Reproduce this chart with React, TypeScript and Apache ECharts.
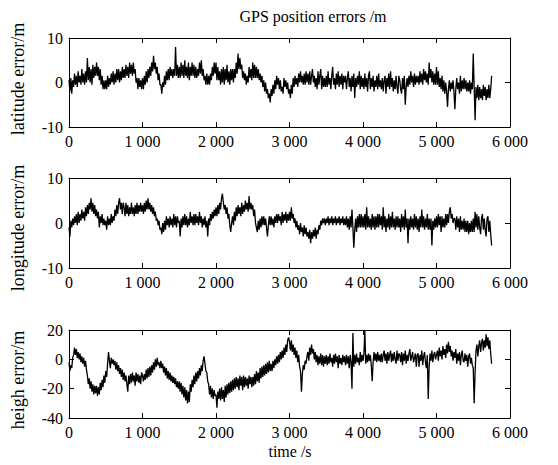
import React, { useEffect, useRef } from "react";
import * as echarts from "echarts";

const STEP_S = 12.5;
const xTicks = [0, 1000, 2000, 3000, 4000, 5000, 6000];
const panelNames = ["latitude error/m", "longitude error/m", "heigh error/m"];
const yRanges = [
  [-10, 10, 10],
  [-10, 10, 10],
  [-40, 20, 20],
];

const latitude = [
  0.5, -2, 1, -2.5, 0.5, -1, 2, -0.5, 1.5, -1, 2.5, 0, 1.5, -0.5, 3, 0, 2, -0.5, 2.5, 0,
  5.5, 0.5, 3.5, 0, 3, -0.5, 4, 1, 3.5, 1.5, 4.5, 1.5, 3.5, 0.5, 3, -0.5, 1.5, -1.5, 0.5, -1.5,
  0.5, -1.5, 1.5, -1, 1, -0.5, 2, 0, 2.5, -0.5, 2, 0, 3, 0.5, 3, 0, 2.5, 0.5, 3.5, 1,
  3, 1, 4, 1.5, 3.5, 1, 4.5, 2, 4, 1.5, 4.5, 2, 3, 0, 1, -1.5, 1, -1, 0.5, -1.5,
  1, -1.5, 1.5, -0.5, 2.5, 0, 3, 1, 3.5, 1.5, 4.5, 2.5, 6, 3, 4.5, 2, 3.5, 0.5, 2, -0.5,
  -0.5, -2.5, 0, -1, 1.5, -0.5, 2.5, 0.5, 3, 0.5, 3.5, 1.5, 3, 1, 3, 1.5, 8, 1.5, 4, 1,
  3.5, 1, 4.5, 1.5, 4, 1, 5, 1.5, 3.5, 1, 4.5, 0.5, 3.5, 1.5, 4.5, 1.5, 4, 1, 3.5, 1,
  3, 1.5, 4.5, 2, 5, 1.5, 3, 0.5, 1.5, -0.5, 2, -0.5, 1.5, -0.5, 2, 0.5, 3.5, 1.5, 4.5, 2,
  4.5, 0.5, 3.5, 0.5, 2.5, -0.5, 3, 0, 3.5, -0.5, 3, 0.5, 4, 0, 2.5, -0.5, 3, 0.5, 3, 0,
  3, 1, 4.5, 2, 6.5, 3, 5.5, 3, 4, 1, 2.5, 0.5, 2, -0.5, 1.5, 0, 3.5, 1, 3, 0.5,
  4.5, 1, 4, 1, 3.5, 1, 3, 0.5, 2, 0, 1.5, -1, 0.5, -2, 0, -2.5, -1.5, -3.5, -2.5, -4.5,
  -1.5, -3, -0.5, -2.5, 0.5, -1.5, 1.5, -0.5, 1, -1.5, 0.5, -2, -1, -2.5, 1, -1, 0.5, -1.5, 0, -2.5,
  -1.5, -3.5, -0.5, -2.5, 1, -1, 1.5, -0.5, 1, -1, 2, 0, 2.5, 0, 1.5, -0.5, 2, -0.5, 2.5, 0,
  2, -0.5, 2.5, -0.5, 1.5, 3, 0, 1.5, -1, 1, -1.5, 2.5, -0.5, 1.5, 3, -1.5, 1.5, -1, 1, -1,
  1.5, -1, 2.5, -0.5, 1, -1.5, 1.5, 3.5, -0.5, 1, -1.5, 2, -0.5, 2.5, -1, 1.5, -0.5, 2, -1.5, 1.5,
  0, 1.5, -1.5, 1, 2.5, -1, 1, -2, 1.5, -1, 2, -3.5, 1, -1, 1.5, -0.5, 2.5, -1.5, 1.5, -1,
  1, -1.5, 2, -1, 1, -2, 1.5, 2.5, -1.5, 1, -1, 1.5, -2, 0.5, -1, 1.5, -1.5, 2, -1, 0.5,
  -1.5, 1, -2, 0.5, 1.5, -2.5, 1, -1, 2, -1.5, 2.5, -1, 1, -2, 0.5, -1.5, 1.5, -1, -2.5, 1.5,
  0.5, -1.5, -2.5, 1, -1.5, 1.5, -5, -1, 1, -1, 1.5, -0.5, 2.5, 0, 1.5, -1, 2, -0.5, 1.5, 0,
  1.5, -0.5, 2.5, 0, 2, -0.5, 3, 0.5, 2.5, 0, 2, -0.5, 4.5, 1, 3, 0, 2.5, -0.5, 2, -0.5,
  3.5, -0.5, 2.5, -1, 1, -1.5, 1.5, -2, 0.5, -2.5, 0, -2, -5.5, -1.5, 0.5, -2, 0, -1.5, 0.5, -2,
  -6, -1.5, 1, -1.5, 0, -2.5, 1.5, -2, 0.5, -1.5, 1, -1.5, 0.5, -2, 0, -2, 0.5, -2.5, 0, -1.5,
  6.5, -1, -8.5, -1, -3.5, -0.5, -4, -1, -3.5, -1.5, -4, -0.5, -3, -1, -4, -1.5, -3.5, -0.5, -3.5, -1.5,
  1.5,
];

const longitude = [
  -1, -3, 0.5, -1, 1, -0.5, 1.5, 0, 2, -0.5, 2.5, 0, 2, 0.5, 3, 1, 2.5, 0.5, 3.5, 1.5,
  4, 2, 4.5, 3, 5.5, 2.5, 4.5, 2, 4, 1.5, 3, 1, 2.5, -1, 1.5, 0, 2, -0.5, 1, -0.5,
  0.5, -1.5, 1.5, -0.5, 1, -0.5, 2, 0, 1.5, 0.5, 3, 1.5, 4, 2, 4.5, 5.5, 3, 4.5, 2, 4.5,
  3.5, 1.5, 4.5, 2, 4, 1.5, 3.5, 2, 4.5, 2, 3.5, 1.5, 4, 2, 4.5, 2, 4, 2.5, 4.5, 2.5,
  4, 2, 4.5, 2.5, 5, 3, 5.5, 3, 4.5, 2.5, 4, 2, 3.5, 1.5, 2.5, 0.5, 1, -0.5, 0.5, -1.5,
  -1, -2.5, 0, -2, 0.5, -1.5, 1.5, -0.5, 1, -1, 1.5, -0.5, 1, -1, 2, -0.5, 1.5, -1, 1.5, 0,
  0.5, -3, 1, -1, 1.5, -0.5, 2, -0.5, 1.5, -1, 1, -0.5, 2.5, 0, 1.5, -0.5, 2, -0.5, 2, 0,
  1.5, -0.5, 2.5, 0, 1.5, -1, 1, -0.5, 1.5, -1, 0.5, -3, 1, -0.5, 2, 0.5, 2.5, 1, 3, 1.5,
  3.5, 1.5, 4, 2, 4.5, 3, 5.5, 6.5, 4.5, 3, 4, 2, 3.5, 1, 2, -0.5, -2, 0, 1.5, -0.5,
  2.5, 0.5, 3.5, 1.5, 4, 2, 3.5, 1.5, 4.5, 2, 4, 2.5, 5, 3, 4.5, 2.5, 6, 3, 4.5, 3,
  4, 1.5, 3, 0, -1, -2, 0.5, -1.5, 1, -1, 1.5, -0.5, 1.5, -0.5, 1, -1, -3, -0.5, 1.5, -0.5,
  1.5, -0.5, 1, -1, 1.5, 0, 2, 0, 2, 0.5, 1.5, -0.5, 2.5, 0, 2, 0.5, 2.5, 0, 2, 0.5,
  2.5, 0.5, 3.5, 1, 2, 0, 1, -1, 0.5, -1.5, -0.5, -2.5, 0, -2, -1, -3, -0.5, -2.5, -1, -3,
  -2, -3.5, -1.5, -4.5, -2, -3.5, -1.5, -3, -1, -3.5, -1.5, -2.5, -0.5, -1.5, 0.5, -0.5, 1, 0, 1, -0.5,
  1, 0, 1.5, -0.5, 1, 0, 1.5, -0.5, 1, 0, 1.5, -0.5, 1, 0, 1.5, -0.5, 1, 0, 1.5, -0.5,
  1, -0.5, 1.5, -1, 1, -1.5, 1.5, -1, 3, -1, -5.5, -1.5, 1, -2, 1.5, -1, 2, -1, 2, -1,
  1.5, -1, 2, -1.5, 3.5, -1, 1.5, -1, 1, -1.5, 2, -1, 1.5, -1.5, 1.5, -1, 2, -1, 2, -0.5,
  1.5, -1.5, 3.5, -1, 1.5, -2, 1, -1, 2, -1.5, 1.5, -1, 2.5, -1, 1, -1.5, 1.5, -1, 1.5, -1,
  1, -2, 2, -1, 1.5, -1.5, 3, -1, 1, -4.5, 1, -1.5, 1.5, -1, 1, -1.5, 2, -1, 1.5, -1.5,
  1, -2, 1.5, -1, 3, -1, 1.5, -1.5, 1, -1, 2, -1.5, 1, -1.5, 1, -5, 0.5, -1.5, 1, -1,
  1.5, -1, 2, -0.5, 1.5, -2, 1.5, -1, 1, -1, 2, -0.5, 2, 0, 2.5, 3.5, 1, 2, 0, 1,
  1, -1.5, 1.5, -1, 1, -2, 1.5, -1.5, 0.5, -1.5, 1, -2, 0.5, -2, 0.5, -2.5, 0, -2, 0.5, -2,
  1, -2, 2.5, -1, 2, -1.5, 1.5, -1, -2.5, 1, 2, -1.5, 1, -1.5, -3, 1, 1.5, -2, 0.5, -2.5,
  -5,
];

const height = [
  -2, -8, -4, -6, 1, 3, 8, 3, 7, 1, 5, 0, 4, -2, 2, -3, 1, -5, -1, -7,
  -11, -17, -13, -20, -15, -22, -17, -24, -18, -23, -18, -25, -19, -24, -16, -21, -14, -19, -11, -16,
  -8, -12, -3, 5, -1, -6, 1, -3, 0, -4, -1, -7, -2, -8, -4, -10, -6, -12, -7, -14,
  -9, -15, -11, -17, -22, -11, -17, -10, -16, -9, -15, -11, -18, -9, -15, -10, -16, -11, -17, -9,
  -11, -15, -10, -14, -7, -13, -6, -12, -5, -11, -4, -9, -2, -7, 0, -5, 1, -4, -2, -6,
  -1, -6, -3, -9, -5, -11, -6, -13, -8, -14, -9, -15, -11, -16, -12, -17, -13, -19, -15, -20,
  -15, -22, -16, -24, -18, -26, -19, -28, -21, -30, -22, -29, -17, -22, -14, -19, -11, -17, -9, -15,
  -8, -13, -6, -11, -4, -8, -1, 2, -3, -8, -9, -15, -17, -24, -18, -26, -20, -27, -21, -25,
  -24, -33, -22, -27, -20, -28, -19, -27, -21, -29, -18, -26, -17, -24, -16, -23, -15, -22, -14, -21,
  -13, -20, -12, -19, -13, -21, -11, -18, -12, -21, -11, -19, -12, -18, -13, -20, -11, -17, -12, -19,
  -12, -18, -10, -17, -8, -15, -9, -16, -6, -13, -5, -12, -4, -11, -3, -10, -2, -9, -1, -8,
  -3, -8, -1, -6, 0, -4, 2, -3, 3, -2, 5, 0, 6, 1, 8, 3, 10, 5, 13, 15,
  12, 6, 13, 5, 10, 3, 8, 1, 6, -2, 3, -5, -8, -22, -10, -4, -7, -1, -3, 2,
  5, -1, 8, 3, 10, 4, 7, 0, 5, -2, 3, -4, 2, -3, 4, -4, 3, -5, 2, -3,
  3, -4, 2, -3, 4, -2, 1, -5, 3, -3, 4, -2, 2, -6, 3, -3, 1, -4, 3, -2,
  2, -4, 3, -3, 2, -6, 3, -2, -20, 18, -5, 3, -3, 4, -2, 1, -4, 5, -2, 3,
  -1, 4, 20, -3, 3, -2, 4, -1, 3, -4, -15, -2, 5, -1, 4, -2, 5, -1, 3, -2,
  4, -2, 3, 6, -1, 4, -3, 5, -1, 3, 6, -2, 4, -1, 5, 0, -3, 6, -1, 4,
  3, -2, 5, -4, 4, -1, 6, -3, 3, -1, 4, 7, -1, 2, 5, -2, 1, 4, -5, 3,
  4, -5, 3, -1, 6, -4, 2, 5, -2, -6, 3, -27, -5, 4, -1, 6, -2, 3, 5, 0,
  3, 6, -1, 8, 2, 6, 0, 9, 3, 7, 1, 10, 4, 12, 5, 9, 2, 6, -1, 5,
  1, 7, -3, 4, -1, 5, -4, 3, 6, -1, -2, 4, -1, 3, -5, 2, 4, -3, 1, -4,
  -6, -30, -9, 6, 10, 2, 9, 13, 5, 11, 14, 6, 13, 8, 17, 9, 15, 7, 13, 4,
  -3,
];

const seriesValues = [latitude, longitude, height];

const FONT = "'Liberation Serif', 'Times New Roman', serif";

export default function App() {
  const ref = useRef<HTMLDivElement>(null);
  useEffect(() => {
    if (!ref.current) return;
    const chart = echarts.init(ref.current, undefined, { renderer: "svg" });
    const grids = [
      { left: 69, right: 48, top: 38, height: 89 },
      { left: 69, right: 48, top: 178, height: 90 },
      { left: 69, right: 48, top: 330, height: 88 },
    ];
    const fmt = (v: number) => (v >= 1000 ? `${v / 1000} 000` : String(v));
    const line = { show: true, onZero: false, lineStyle: { color: "#000", width: 1 } };
    const tick = { show: true, inside: true, length: 5, lineStyle: { color: "#000" } };
    const xAxes: any[] = [];
    const yAxes: any[] = [];
    const series: any[] = [];
    grids.forEach((g, i) => {
      const common = {
        type: "value",
        gridIndex: i,
        min: xTicks[0],
        max: xTicks[xTicks.length - 1],
        interval: 1000,
        axisLine: line,
        axisTick: tick,
        splitLine: { show: false },
      };
      xAxes.push({
        ...common,
        position: "bottom",
        axisLabel: { formatter: fmt, color: "#000", fontFamily: FONT, fontSize: 16, margin: 6 },
      });
      xAxes.push({ ...common, position: "top", axisLabel: { show: false } });
      const [mn, mx, iv] = yRanges[i];
      const ycommon = {
        type: "value",
        gridIndex: i,
        min: mn,
        max: mx,
        interval: iv,
        axisLine: line,
        axisTick: tick,
        splitLine: { show: false },
      };
      yAxes.push({
        ...ycommon,
        position: "left",
        axisLabel: { color: "#000", fontFamily: FONT, fontSize: 16, margin: 6 },
      });
      yAxes.push({ ...ycommon, position: "right", axisLabel: { show: false } });
      series.push({
        type: "line",
        xAxisIndex: i * 2,
        yAxisIndex: i * 2,
        showSymbol: false,
        symbol: "none",
        data: seriesValues[i].map((v, k) => [k * STEP_S, v]),
        lineStyle: { color: "#000", width: 1.3 },
      });
    });
    const nameCenters = [79, 228, 380];
    chart.setOption({
      animation: false,
      backgroundColor: "#fff",
      grid: grids,
      xAxis: xAxes,
      yAxis: yAxes,
      series,
      graphic: [
        {
          type: "text",
          x: 313,
          y: 16,
          style: {
            text: "GPS position errors /m",
            fill: "#000",
            font: `16px ${FONT}`,
            align: "center",
            verticalAlign: "middle",
          },
        },
        ...panelNames.map((n, i) => ({
          type: "text",
          x: 18,
          y: nameCenters[i],
          rotation: Math.PI / 2,
          style: {
            text: n,
            fill: "#000",
            font: `18px ${FONT}`,
            align: "center",
            verticalAlign: "middle",
          },
        })),
        {
          type: "text",
          x: 290,
          y: 451,
          style: {
            text: "time /s",
            fill: "#000",
            font: `16px ${FONT}`,
            align: "center",
            verticalAlign: "middle",
          },
        },
      ],
    });
    return () => chart.dispose();
  }, []);
  return <div ref={ref} style={{ width: 558, height: 465, position: "absolute", left: 0, top: 0 }} />;
}
